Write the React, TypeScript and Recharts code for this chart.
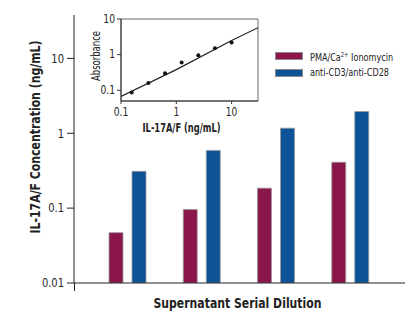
import {
  BarChart,
  Bar,
  XAxis,
  YAxis,
  Legend,
  Label,
  ComposedChart,
  Line,
  Scatter,
  ReferenceArea,
} from "recharts";

const FONT = "'Liberation Sans Narrow', 'DejaVu Sans Condensed', 'Arial Narrow', sans-serif";

// main chart: supernatant dilutions
const dilutions = ["1:8", "1:4", "1:2", "1:1"];
const pmaValues = [0.047, 0.096, 0.185, 0.41];
const cd3Values = [0.31, 0.59, 1.17, 1.95];
const concTicks = [0.01, 0.1, 1, 10];

const seriesNames = ["PMA/Ca2+ Ionomycin", "anti-CD3/anti-CD28"];
const seriesColors = ["#8a164b", "#0b5396"];

// inset: standard curve
const standardConc = [0.156, 0.3125, 0.625, 1.25, 2.5, 5, 10];
const standardAbs = [0.086, 0.16, 0.3, 0.6, 0.96, 1.5, 2.2];
const fitConc = [0.1, 1, 10, 30];
const fitAbs = [0.067, 0.38, 2.5, 5.7];
const insetTicks = [0.1, 1, 10];

const mainData = dilutions.map((d, i) => ({
  dilution: d,
  pma: pmaValues[i],
  cd3: cd3Values[i],
}));
const standardData = standardConc.map((x, i) => ({ x, y: standardAbs[i] }));
const fitData = fitConc.map((x, i) => ({ x, y: fitAbs[i] }));

// text squeezed to a given length (the original uses a condensed face)
function FitText({ x, y, len, size, bold, rotate, children }: any) {
  return (
    <text
      x={x}
      y={y}
      textAnchor="middle"
      dominantBaseline="central"
      transform={rotate ? `rotate(-90, ${x}, ${y})` : undefined}
      fontFamily={FONT}
      fontSize={size}
      fontWeight={bold ? "bold" : "normal"}
      fill="#222"
      textLength={len}
      lengthAdjust="spacingAndGlyphs"
    >
      {children}
    </text>
  );
}

function NarrowTick({ x, y, payload, size, anchor, dy }: any) {
  return (
    <text
      x={x}
      y={y}
      dy={dy}
      textAnchor={anchor}
      dominantBaseline="central"
      fontFamily={FONT}
      fontSize={size}
      fill="#222"
      transform={`translate(${x} 0) scale(0.85 1) translate(${-x} 0)`}
    >
      {payload.value}
    </text>
  );
}

function legendText(name: string) {
  if (name.includes("Ca2+")) {
    const [a, b] = name.split("Ca2+");
    return (
      <>
        {a}Ca<sup style={{ fontSize: 7, verticalAlign: 4 }}>2+</sup>
        {b}
      </>
    );
  }
  return name;
}

function LegendBox() {
  return (
    <div style={{ fontFamily: FONT, fontSize: 11, color: "#222" }}>
      {seriesNames.map((n, i) => (
        <div
          key={n}
          style={{
            display: "flex",
            alignItems: "center",
            height: 16.6,
            whiteSpace: "nowrap",
          }}
        >
          <span
            style={{
              width: 26,
              height: 6,
              flex: "none",
              background: seriesColors[i],
              border: "1px solid #8c8c8c",
              marginRight: 7,
            }}
          />
          <span
            style={{
              display: "inline-block",
              lineHeight: "12px",
              transform: "scaleX(0.82)",
              transformOrigin: "left center",
            }}
          >
            {legendText(n)}
          </span>
        </div>
      ))}
    </div>
  );
}

function Inset() {
  return (
    <div style={{ position: "absolute", left: 80, top: 0 }}>
      <ComposedChart
        width={185}
        height={140}
        margin={{ top: 19, right: 7, bottom: 0, left: 0 }}
      >
        <XAxis
          dataKey="x"
          type="number"
          scale="log"
          domain={[0.1, 30]}
          ticks={insetTicks}
          allowDataOverflow
          height={39}
          stroke="#333"
          tickSize={3}
          tickMargin={1}
          tick={<NarrowTick size={12} anchor="middle" dy={7} />}
        >
          <Label
            content={({ viewBox }: any) => (
              <FitText x={viewBox.x + viewBox.width / 2 - 8} y={128} len={78} size={12} bold>
                IL-17A/F (ng/mL)
              </FitText>
            )}
          />
        </XAxis>
        <YAxis
          dataKey="y"
          type="number"
          scale="log"
          domain={[0.05, 10]}
          ticks={insetTicks}
          allowDataOverflow
          width={41}
          stroke="#333"
          tickSize={4}
          tickMargin={2}
          tick={<NarrowTick size={12} anchor="end" dy={0} />}
        >
          <Label
            content={({ viewBox }: any) => (
              <FitText x={16} y={viewBox.y + viewBox.height / 2 - 4} len={50} size={11.5} rotate>
                Absorbance
              </FitText>
            )}
          />
        </YAxis>
        <ReferenceArea
          x1={0.1}
          x2={30}
          y1={0.05}
          y2={10}
          fill="none"
          stroke="#666"
          strokeWidth={1}
          fillOpacity={0}
        />
        <Line
          data={fitData}
          dataKey="y"
          type="linear"
          stroke="#222"
          strokeWidth={1.2}
          dot={false}
          isAnimationActive={false}
        />
        <Scatter
          data={standardData}
          dataKey="y"
          fill="#111"
          isAnimationActive={false}
          shape={(p: any) => <circle cx={p.cx} cy={p.cy} r={2} fill="#111" />}
        />
      </ComposedChart>
    </div>
  );
}

export default function App() {
  return (
    <div
      style={{
        position: "absolute",
        left: 0,
        top: 0,
        width: 406,
        height: 314,
        background: "#fff",
      }}
    >
      <BarChart
        width={406}
        height={314}
        data={mainData}
        margin={{ top: 15, right: 1, bottom: 0, left: 0 }}
        barSize={14}
        barGap={9}
      >
        <XAxis
          dataKey="dilution"
          tick={false}
          tickLine={false}
          height={31}
          stroke="#222"
          padding={{ left: 16, right: 18 }}
        >
          <Label
            content={({ viewBox }: any) => (
              <FitText x={viewBox.x + viewBox.width / 2 - 2} y={303} len={168} size={14} bold>
                Supernatant Serial Dilution
              </FitText>
            )}
          />
        </XAxis>
        <YAxis
          type="number"
          scale="log"
          domain={[0.01, 38]}
          ticks={concTicks}
          allowDataOverflow
          width={74}
          stroke="#222"
          tickSize={7}
          tickMargin={3}
          tick={<NarrowTick size={13} anchor="end" dy={0} />}
        >
          <Label
            content={() => (
              <FitText x={35} y={137} len={193} size={14} bold rotate>
                IL-17A/F Concentration (ng/mL)
              </FitText>
            )}
          />
        </YAxis>
        <Legend
          layout="vertical"
          align="center"
          verticalAlign="middle"
          wrapperStyle={{ left: 275, top: 48, width: 130 }}
          content={() => <LegendBox />}
        />
        <Bar
          dataKey="pma"
          name={seriesNames[0]}
          fill={seriesColors[0]}
          stroke="#9a9a9a"
          strokeWidth={0.8}
          isAnimationActive={false}
        />
        <Bar
          dataKey="cd3"
          name={seriesNames[1]}
          fill={seriesColors[1]}
          stroke="#9a9a9a"
          strokeWidth={0.8}
          isAnimationActive={false}
        />
      </BarChart>
      {/* y axis runs a little past the baseline */}
      <div
        style={{
          position: "absolute",
          left: 73.5,
          top: 283,
          width: 1,
          height: 8,
          background: "#222",
        }}
      />
      <Inset />
    </div>
  );
}
